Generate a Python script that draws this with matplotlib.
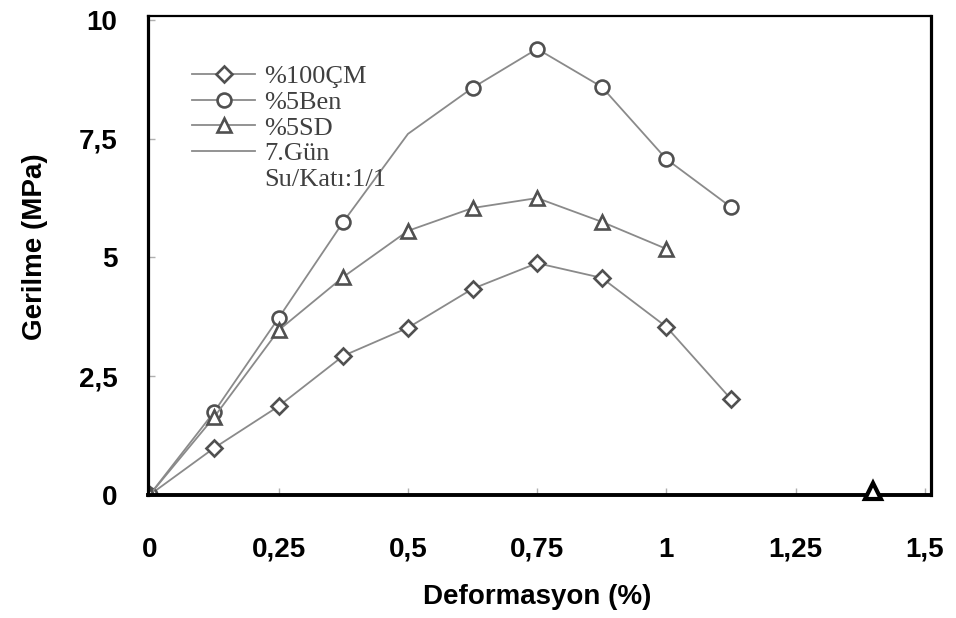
import matplotlib.pyplot as plt
from matplotlib.lines import Line2D

# Gerilme - deformasyon verileri (7. gün, Su/Katı 1/1)
deformasyon = [0, 0.125, 0.25, 0.375, 0.5, 0.625, 0.75, 0.875, 1.0, 1.125]
cm100 = [0, 0.99, 1.87, 2.93, 3.52, 4.34, 4.88, 4.57, 3.54, 2.02]
ben5 = [0, 1.75, 3.73, 5.75, 7.6, 8.57, 9.39, 8.59, 7.07, 6.06]
sd5_x = [0, 0.125, 0.25, 0.375, 0.5, 0.625, 0.75, 0.875, 1.0]
sd5 = [0, 1.64, 3.47, 4.59, 5.56, 6.04, 6.25, 5.75, 5.18]
# eksen üzerinde kalan tek üçgen
sd5_ek_x = [1.4]
sd5_ek_y = [0.08]

# %5Ben serisinde 0.5 noktasının işareti yok
ben5_isaret = [0, 1, 2, 3, 5, 6, 7, 8, 9]

xticks = [0, 0.25, 0.5, 0.75, 1, 1.25, 1.5]
xticklabels = ['0', '0,25', '0,5', '0,75', '1', '1,25', '1,5']
yticks = [0, 2.5, 5, 7.5, 10]
yticklabels = ['0', '2,5', '5', '7,5', '10']

cizgi = '#8a8a8a'
kenar = '#505050'

fig = plt.figure(figsize=(9.56, 6.18), dpi=100)
ax = fig.add_axes([0.1548, 0.199, 0.819, 0.775])

ortak = dict(color=cizgi, lw=1.3, markerfacecolor='white',
             markeredgecolor=kenar, markeredgewidth=1.9)
ax.plot(deformasyon, cm100, marker='D', markersize=8, **ortak)
ax.plot(deformasyon, ben5, marker='o', markersize=10, markevery=ben5_isaret, **ortak)
ax.plot(sd5_x, sd5, marker='^', markersize=10, **ortak)
ax.plot(sd5_ek_x, sd5_ek_y, marker='^', markersize=12, ls='none',
        markerfacecolor='white', markeredgecolor='black', markeredgewidth=3,
        clip_on=False, zorder=5)

ax.set_xlim(-0.003, 1.512)
ax.set_ylim(0, 10.08)

etiket_font = dict(family='Liberation Sans', weight='bold', size=20)
ax.set_xticks(xticks)
ax.set_xticklabels(xticklabels, **etiket_font)
ax.set_yticks(yticks)
ax.set_yticklabels(yticklabels, **etiket_font)
ax.tick_params(axis='x', direction='in', length=5, width=1, color='#b0b0b0', pad=30)
ax.tick_params(axis='y', direction='in', length=5, width=1, color='#b0b0b0', pad=22)

ax.set_xlabel('Deformasyon (%)', **etiket_font)
ax.set_ylabel('Gerilme (MPa)', **etiket_font)
ax.xaxis.set_label_coords(0.497, -0.186)
ax.yaxis.set_label_coords(-0.128, 0.518)

ax.spines['left'].set_linewidth(2.3)
ax.spines['bottom'].set_linewidth(2.8)
ax.spines['right'].set_linewidth(2.3)
ax.spines['top'].set_linewidth(1.6)
for s in ax.spines.values():
    s.set_color('black')

# açıklama kutusu
tutamaclar = [
    Line2D([], [], marker='D', markersize=8, **ortak),
    Line2D([], [], marker='o', markersize=10, **ortak),
    Line2D([], [], marker='^', markersize=10, **ortak),
    Line2D([], [], color=cizgi, lw=1.3),
    Line2D([], [], ls='none'),
]
adlar = ['%100ÇM', '%5Ben', '%5SD', '7.Gün', 'Su/Katı:1/1']
leg = ax.legend(tutamaclar, adlar, loc='upper left', bbox_to_anchor=(0.056, 0.898),
                frameon=False, borderpad=0, borderaxespad=0, handlelength=2.4,
                handletextpad=0.35, labelspacing=0.08,
                prop=dict(family='Liberation Serif', size=19))
for t in leg.get_texts():
    t.set_color('#404040')

fig.savefig('out.png', dpi=100)
